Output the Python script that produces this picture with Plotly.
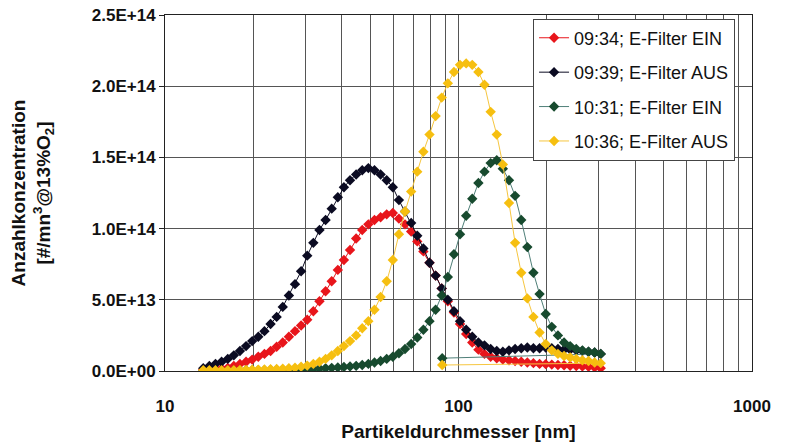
import plotly.graph_objects as go

# Particle diameter channels [nm]
diam = [13.50, 14.16, 14.86, 15.59, 16.36, 17.16, 18.00, 18.89, 19.82, 20.79,
        21.82, 22.89, 24.01, 25.19, 26.43, 27.73, 29.09, 30.52, 32.02, 33.60,
        35.25, 36.98, 38.80, 40.70, 42.70, 44.80, 46.99, 49.30, 51.73, 54.27,
        56.93, 59.73, 62.66, 65.74, 68.98, 72.36, 75.92, 79.65, 83.56, 87.66,
        91.98, 96.49, 101.2, 106.2, 111.4, 116.9, 122.6, 128.7, 135.0, 141.6,
        148.6, 155.9, 163.6, 171.6, 180.0, 188.9, 198.2, 207.9, 218.2, 228.9,
        240.1, 251.9, 264.3, 277.3, 290.9, 305.2]

# Concentrations in units of 1E13 #/m³
s_0934 = [0.1, 0.12, 0.15, 0.18, 0.22, 0.35, 0.5, 0.65, 0.8, 1.0,
          1.2, 1.4, 1.7, 2.0, 2.4, 2.8, 3.2, 3.6, 4.2, 4.9,
          5.6, 6.3, 7.1, 7.8, 8.5, 9.3, 9.9, 10.3, 10.6, 10.8,
          11.0, 11.1, 10.7, 10.3, 9.8, 9.1, 8.4, 7.6, 6.7, 5.8,
          4.9, 4.1, 3.3, 2.6, 2.0, 1.5, 1.2, 1.0, 0.9, 0.8,
          0.75, 0.7, 0.65, 0.6, 0.55, 0.5, 0.48, 0.45, 0.42, 0.4,
          0.37, 0.35, 0.32, 0.3, 0.25, 0.2]

s_0939 = [0.2, 0.35, 0.5, 0.65, 0.85, 1.1, 1.4, 1.75, 2.1, 2.4,
          2.8, 3.3, 3.8, 4.5, 5.3, 6.1, 7.0, 8.1, 9.0, 9.9,
          10.6, 11.4, 12.2, 12.9, 13.4, 13.8, 14.1, 14.25, 14.1, 13.8,
          13.4, 12.9, 12.0, 11.2, 10.4, 9.5, 8.6, 7.6, 6.7, 5.8,
          5.0, 4.2, 3.5, 2.9, 2.4, 2.0, 1.8, 1.55, 1.4, 1.35,
          1.45, 1.55, 1.6, 1.65, 1.6, 1.6, 1.65, 1.6, 1.55, 1.5,
          1.5, 1.45, 1.4, 1.35, 1.3, 1.2]

s_1031 = [0.02, 0.02, 0.03, 0.03, 0.03, 0.04, 0.04, 0.05, 0.05, 0.06,
          0.06, 0.07, 0.08, 0.09, 0.1, 0.11, 0.12, 0.13, 0.15, 0.17,
          0.2, 0.22, 0.25, 0.28, 0.32, 0.36, 0.42, 0.5, 0.6, 0.7,
          0.85, 1.0, 1.25, 1.55, 1.9, 2.35, 2.9, 3.5, 4.3, 5.3,
          6.6, 8.2, 9.6, 10.9, 12.1, 13.2, 14.0, 14.6, 14.8, 14.2,
          13.4, 12.3, 10.6, 8.7, 6.9, 5.4, 4.0, 3.1, 2.5, 2.0,
          1.75, 1.55, 1.45, 1.35, 1.3, 1.2]
s_1031_extra_x = [88.0]
s_1031_extra_y = [0.9]

s_1036 = [0.05, 0.05, 0.05, 0.05, 0.05, 0.06, 0.07, 0.08, 0.09, 0.1,
          0.11, 0.12, 0.14, 0.16, 0.19, 0.23, 0.3, 0.38, 0.5, 0.65,
          0.85, 1.1, 1.4, 1.75, 2.1, 2.5, 3.0, 3.5, 4.3, 5.2,
          6.3, 7.8, 9.6, 11.2, 12.6, 14.0, 15.4, 16.6, 17.9, 19.2,
          20.2, 21.0, 21.5, 21.6, 21.5, 21.0, 20.1, 18.2, 16.6, 14.5,
          11.8, 9.0, 6.9, 5.1, 3.8, 2.7, 1.9, 1.45, 1.2, 1.05,
          0.95, 0.85, 0.75, 0.7, 0.6, 0.55]
s_1036_extra_x = [88.0]
s_1036_extra_y = [0.42]

names = ["09:34; E-Filter EIN", "09:39; E-Filter AUS",
         "10:31; E-Filter EIN", "10:36; E-Filter AUS"]
colors = ["#e8151b", "#0b0b22", "#174a2e", "#f6bf10"]
line_colors = ["#e8151b", "#0b0b22", "#4f7f78", "#f6c640"]

y_tickvals = [0, 5e13, 1e14, 1.5e14, 2e14, 2.5e14]
y_ticktext = ["0.0E+00", "5.0E+13", "1.0E+14", "1.5E+14", "2.0E+14", "2.5E+14"]
x_tickvals = [10, 20, 30, 40, 50, 60, 70, 80, 90,
              100, 200, 300, 400, 500, 600, 700, 800, 900, 1000]
x_ticktext = ["10", "", "", "", "", "", "", "", "",
              "100", "", "", "", "", "", "", "", "", "1000"]

series = [
    (diam, s_0934),
    (diam, s_0939),
    (diam + s_1031_extra_x, s_1031 + s_1031_extra_y),
    (diam + s_1036_extra_x, s_1036 + s_1036_extra_y),
]

fig = go.Figure()
for i, (xs, ys) in enumerate(series):
    fig.add_trace(go.Scatter(
        x=xs, y=[v * 1e13 for v in ys], name=names[i], mode="lines+markers",
        legendgroup=f"g{i}",
        line=dict(color=line_colors[i], width=1),
        marker=dict(symbol="diamond", size=8, color=colors[i], line=dict(width=0)),
    ))

font_family = "Liberation Sans, Arial, sans-serif"
fig.update_layout(
    width=789, height=447,
    margin=dict(l=165, r=37, t=15, b=76),
    paper_bgcolor="white", plot_bgcolor="white",
    font=dict(family=font_family, color="#111"),
    showlegend=True,
    legend=dict(
        x=0.627, y=0.99, xanchor="left", yanchor="top",
        bgcolor="white", bordercolor="#444", borderwidth=1,
        font=dict(size=18, family=font_family, color="#111"),
        tracegroupgap=8, traceorder="grouped",
    ),
    xaxis=dict(
        type="log", range=[1, 3], automargin=False,
        tickvals=x_tickvals, ticktext=x_ticktext,
        showgrid=True, gridcolor="#555", gridwidth=1,
        showline=True, linecolor="#222", linewidth=1, mirror=True,
        ticks="", ticklabelstandoff=20,
        tickfont=dict(size=17, family=font_family, color="#111", weight="bold"),
        title=dict(text="<b>Partikeldurchmesser [nm]</b>", font=dict(size=19), standoff=9),
        zeroline=False,
    ),
    yaxis=dict(
        range=[0, 2.5e14], automargin=False,
        tickvals=y_tickvals, ticktext=y_ticktext,
        showgrid=True, gridcolor="#555", gridwidth=1,
        showline=True, linecolor="#222", linewidth=1, mirror=True,
        ticks="outside", ticklen=5, tickcolor="#222",
        tickfont=dict(size=17, family=font_family, color="#111", weight="bold"),
        title=dict(text="<b>Anzahlkonzentration<br>[#/mn<sup>3</sup>@13%O<sub>2</sub>]</b>",
                   font=dict(size=19), standoff=36),
        zeroline=False,
    ),
)

fig.write_html("out.html")
